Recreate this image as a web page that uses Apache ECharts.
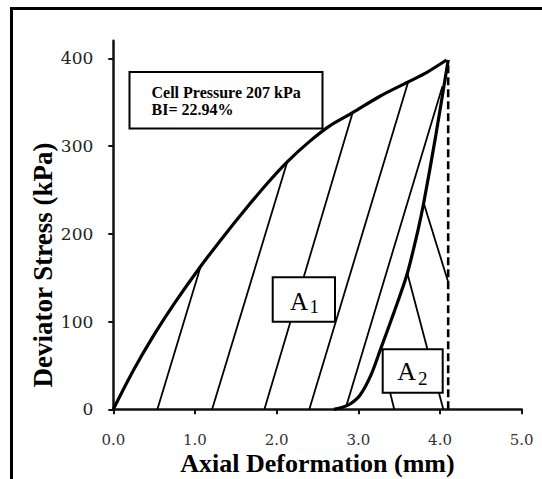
<!DOCTYPE html>
<html><head><meta charset="utf-8">
<script src="https://cdn.jsdelivr.net/npm/echarts@6/dist/echarts.min.js"></script>
<style>html,body{margin:0;padding:0;background:#fff}#c{width:542px;height:479px}</style>
</head><body><div id="c"></div>
<script>
const xTickValues = [0, 1, 2, 3, 4, 5];
const yTickValues = [0, 100, 200, 300, 400];
const loadingCurve = [[0,0],[0.25,45],[0.5,85],[0.75,121],[1.07,163],[1.35,197],[1.6,226],[1.9,259],[2.13,282],[2.4,305],[2.65,323],[2.93,338],[3.27,357],[3.61,373],[3.84,384],[4.08,398]];
const reloadingCurve = [[2.70,0],[2.80,2],[2.90,6],[3.02,16],[3.15,38],[3.27,68],[3.45,114],[3.60,155],[3.73,204],[3.80,235],[3.95,313],[4.10,398]];
const unloadLines = [
  [[0.54,0],[1.07,163]],
  [[1.21,0],[2.13,282]],
  [[1.85,0],[2.93,338]],
  [[2.40,0],[3.61,373]],
  [[2.85,3],[4.03,368]]
];
const a2Lines = [
  [[3.60,155],[4.04,0]],
  [[3.80,235],[4.10,145]],
  [[3.31,48],[3.44,0]]
];
const peakLine = [[4.10,0],[4.10,398]];
const infoLines = ['Cell Pressure 207 kPa', 'BI= 22.94%'];
const areaLabels = [['A','1'],['A','2']];

const serif = '"Liberation Serif", "Times New Roman", serif';
const chart = echarts.init(document.getElementById('c'), null, {renderer: 'svg'});

const series = [];
series.push({type:'line', data: loadingCurve, smooth: 0.3, symbol:'none', lineStyle:{color:'#000', width:3.2}, z:3});
series.push({type:'line', data: reloadingCurve, smooth: 0.3, symbol:'none', lineStyle:{color:'#000', width:3.2}, z:3});
unloadLines.concat(a2Lines).forEach(seg => series.push({type:'line', data: seg, symbol:'none', lineStyle:{color:'#000', width:1.8}, z:2}));
series.push({type:'line', data: peakLine, symbol:'none', lineStyle:{color:'#000', width:2.6, type:[8,4]}, z:2});

const option = {
  animation: false,
  backgroundColor: '#fff',
  grid: {left: 113.3, right: 20.3, top: 40.7, bottom: 69.7, containLabel: false, outerBoundsMode: 'none'},
  xAxis: {
    type: 'value', min: 0, max: 5, interval: 1,
    axisLine: {show: true, lineStyle: {color: '#111', width: 2.5}},
    axisTick: {show: true, length: 5, lineStyle: {color: '#111', width: 2}},
    axisLabel: {margin: 23, lineHeight: 15, formatter: v => v.toFixed(1), fontFamily: '"DejaVu Serif", serif', fontSize: 15, color: '#333'},
    splitLine: {show: false},
    name: 'Axial Deformation (mm)', nameLocation: 'middle', nameGap: 42.5, nameMoveOverlap: false,
    nameTextStyle: {fontFamily: serif, fontWeight: 'bold', fontSize: 26, lineHeight: 24, color: '#000'}
  },
  yAxis: {
    type: 'value', min: 0, max: 420,
    axisLine: {show: true, lineStyle: {color: '#111', width: 2.5}},
    axisTick: {show: true, length: 5, customValues: yTickValues, lineStyle: {color: '#111', width: 2}},
    axisLabel: {margin: 20, customValues: yTickValues, fontFamily: '"DejaVu Serif", serif', fontSize: 17, color: '#222'},
    splitLine: {show: false}
  },
  series: series,
  graphic: [
    {type:'rect', z:100, silent:true, shape:{x:11.5, y:8.5, width:700, height:700}, style:{fill:'none', stroke:'#000', lineWidth:3}},
    {type:'rect', z:100, shape:{x:129.5, y:72, width:193, height:56.5}, style:{fill:'#fff', stroke:'#000', lineWidth:2}},
    {type:'text', z:101, x:151.5, y:92.5, style:{text: infoLines[0], fontFamily: serif, fontWeight:'bold', fontSize:16, fill:'#000', align:'left', verticalAlign:'middle'}},
    {type:'text', z:101, x:151.5, y:109, style:{text: infoLines[1], fontFamily: serif, fontWeight:'bold', fontSize:16, fill:'#000', align:'left', verticalAlign:'middle'}},
    {type:'rect', z:100, shape:{x:272.7, y:277.3, width:62.3, height:44.4}, style:{fill:'#fff', stroke:'#000', lineWidth:2}},
    {type:'text', z:101, x:290, y:301, style:{text: areaLabels[0][0], fontFamily: serif, fontSize:25, fill:'#000', align:'left', verticalAlign:'middle'}},
    {type:'text', z:101, x:309.5, y:306.7, style:{text: areaLabels[0][1], fontFamily: serif, fontSize:19, fill:'#000', align:'left', verticalAlign:'middle'}},
    {type:'rect', z:100, shape:{x:382.7, y:349.3, width:60, height:43.4}, style:{fill:'#fff', stroke:'#000', lineWidth:2}},
    {type:'text', z:101, x:397.3, y:371.3, style:{text: areaLabels[1][0], fontFamily: serif, fontSize:26, fill:'#000', align:'left', verticalAlign:'middle'}},
    {type:'text', z:101, x:418, y:378.8, style:{text: areaLabels[1][1], fontFamily: serif, fontSize:19, fill:'#000', align:'left', verticalAlign:'middle'}},
    {type:'text', z:101, x:42.5, y:265, rotation: Math.PI/2, style:{text:'Deviator Stress (kPa)', fontFamily: serif, fontWeight:'bold', fontSize:27, fill:'#000', align:'center', verticalAlign:'middle'}}
  ]
};
chart.setOption(option);
</script></body></html>
